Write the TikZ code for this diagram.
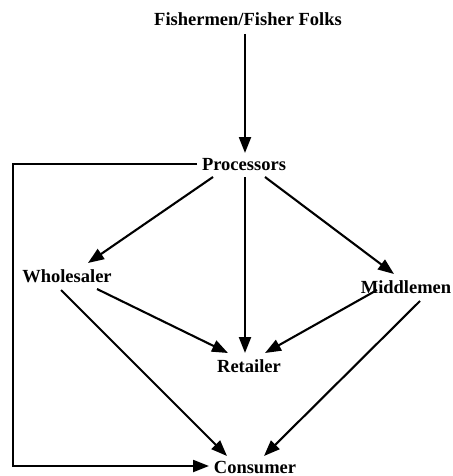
\documentclass[tikz,border=0pt]{standalone}
\usepackage{fontspec}
\setmainfont{Liberation Serif}
\usepackage{tikz}
\usetikzlibrary{arrows.meta,positioning,calc}

\begin{document}
\begin{tikzpicture}[x=1pt,y=-1pt,>={Triangle[length=16pt,width=12pt]},
  actor/.style={inner sep=0pt,anchor=base,font=\bfseries\fontsize{18.5}{22}\selectfont},
  flow/.style={->,line width=2.1pt,black}]
  \useasboundingbox (0,0) rectangle (452,476);
  \node[actor] (fish)  at (248,26)  {Fishermen/Fisher Folks};
  \node[actor] (proc)  at (244,170) {Processors};
  \node[actor] (whole) at (67,282)  {Wholesaler};
  \node[actor] (mid)   at (406,293) {Middlemen};
  \node[actor] (ret)   at (249,372) {Retailer};
  \node[actor] (cons)  at (255,473) {Consumer};
  \coordinate (bend) at (13,164);
  \draw[flow] ([xshift=-3pt,yshift=-8pt]fish.base) -- ([xshift=1pt,yshift=17pt]proc.base);
  \draw[flow] ([xshift=-31pt,yshift=-7pt]proc.base) -- ([xshift=21pt,yshift=19pt]whole.base);
  \draw[flow] ([xshift=1pt,yshift=-7pt]proc.base) -- ([xshift=-4pt,yshift=19pt]ret.base);
  \draw[flow] ([xshift=21pt,yshift=-7pt]proc.base) -- ([xshift=-12pt,yshift=19pt]mid.base);
  \draw[flow] ([xshift=30pt,yshift=-7pt]whole.base) -- ([xshift=-21pt,yshift=19pt]ret.base);
  \draw[flow] ([xshift=-6pt,yshift=-8pt]whole.base) -- ([xshift=-28pt,yshift=17pt]cons.base);
  \draw[flow] ([xshift=-29pt,yshift=3pt]mid.base) -- ([xshift=16pt,yshift=19pt]ret.base);
  \draw[flow] ([xshift=14pt,yshift=-8pt]mid.base) -- ([xshift=9pt,yshift=17pt]cons.base);
  \draw[flow] ([xshift=-47pt,yshift=6pt]proc.base) -- (bend) |- ([xshift=-46pt,yshift=7pt]cons.base);
\end{tikzpicture}
\end{document}
